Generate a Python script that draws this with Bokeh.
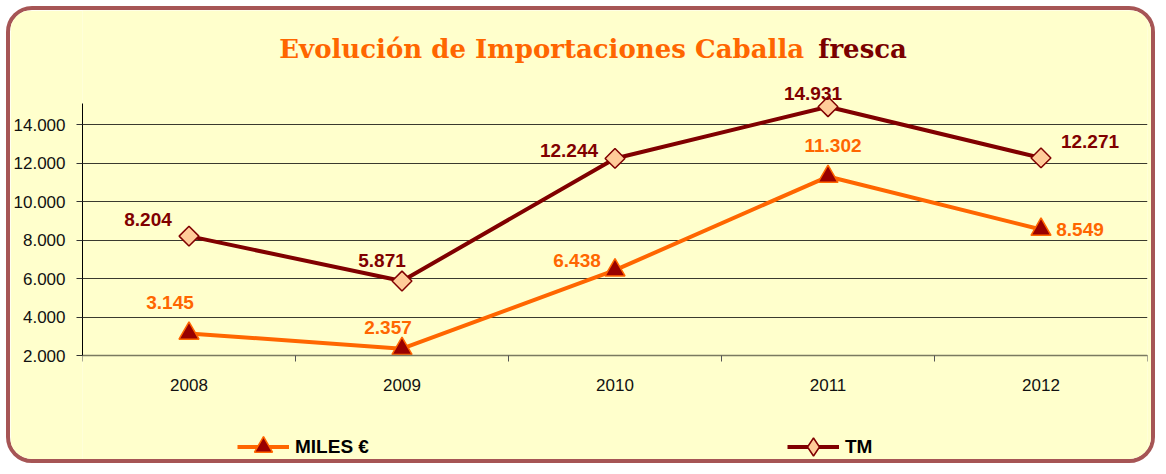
import math
from bokeh.plotting import figure
from bokeh.models import (ColumnDataSource, FixedTicker, Label, Legend, LegendItem, Range1d)
from bokeh.core.properties import value
from bokeh.embed import file_html
from bokeh.resources import INLINE

# ---- data ----
years = ["2008", "2009", "2010", "2011", "2012"]
miles_eur = [3145, 2357, 6438, 11302, 8549]
tm = [8204, 5871, 12244, 14931, 12271]
y_ticks = [2000, 4000, 6000, 8000, 10000, 12000, 14000]

# ---- style (label offsets in screen px) ----
tm_dx = [-41, -20, -46, -15, 49]
tm_dy = [-17, -21, -8, -13, -16]
mi_dx = [-19, -14, -38, 5, 39]
mi_dy = [-31, -21, -10, -31, 0]

ORANGE = "#FF6600"
DARKRED = "#800000"
BG = "#FFFFCC"
# value axis drawn from 2000 to 15100; the frame extends beyond it to hold title and legend
AX_LO, AX_HI = 2000, 15100
Y_START, Y_END = -3822, 19934

def fmt(v):
    return f"{v:,}".replace(",", ".")

xs = [i + 0.5 for i in range(len(years))]

p = figure(width=1149, height=457, output_backend="svg", toolbar_location=None,
           x_range=Range1d(0, len(years)), y_range=Range1d(Y_START, Y_END),
           min_border_left=70, min_border_right=12, min_border_top=0, min_border_bottom=0)
p.background_fill_color = BG
p.border_fill_color = BG
p.outline_line_color = None
p.styles = {"border": "4px solid #A65555", "border-radius": "26px", "overflow": "hidden",
            "margin": "6px 0 0 6px"}

# axes
xa = p.xaxis[0]
xa.fixed_location = AX_LO
xa.ticker = FixedTicker(ticks=xs, minor_ticks=list(range(len(years) + 1)))
xa.major_label_overrides = {x: y for x, y in zip(xs, years)}
xa.major_tick_line_color = None
xa.minor_tick_out = 6
xa.minor_tick_in = 0
xa.minor_tick_line_color = "#555555"
xa.axis_line_color = "#7A7A60"
xa.axis_line_width = 1.5
xa.major_label_text_font = "Liberation Sans"
xa.major_label_text_font_size = "17px"
xa.major_label_text_color = "#111111"
xa.major_label_standoff = 17

ya = p.yaxis[0]
ya.bounds = (AX_LO, AX_HI)
ya.ticker = FixedTicker(ticks=y_ticks)
ya.major_label_overrides = {t: fmt(t) for t in y_ticks}
ya.minor_tick_line_color = None
ya.major_tick_out = 6
ya.major_tick_in = 0
ya.major_tick_line_color = "#333333"
ya.axis_line_color = "#000000"
ya.major_label_text_font = "Liberation Sans"
ya.major_label_text_font_size = "17px"
ya.major_label_text_color = "#111111"
ya.major_label_standoff = 11

p.xgrid.grid_line_color = None
p.ygrid.grid_line_color = "#3A3A2E"
p.ygrid.grid_line_width = 1

src = ColumnDataSource(dict(
    x=xs, miles=miles_eur, tm=tm,
    miles_txt=[fmt(v) for v in miles_eur], tm_txt=[fmt(v) for v in tm],
    tm_dx=tm_dx, tm_dy=tm_dy, mi_dx=mi_dx, mi_dy=mi_dy))

l1 = p.line("x", "miles", source=src, line_color=ORANGE, line_width=4)
m1 = p.scatter("x", "miles", source=src, marker="triangle", size=20,
               fill_color="#990000", line_color=ORANGE, line_width=1.5)
l2 = p.line("x", "tm", source=src, line_color=DARKRED, line_width=4)
m2 = p.scatter("x", "tm", source=src, marker="square", angle=math.pi / 4, size=14,
               fill_color="#FFCC99", line_color=DARKRED, line_width=1.5)
# legend key symbol for TM (hidden in the plot, shown only in the legend)
m2_key = p.scatter("x", "tm", source=src, marker="diamond", size=18,
                   fill_color="#FFCC99", line_color=DARKRED, line_width=1.5, visible=False)

p.text("x", "miles", text="miles_txt", source=src, x_offset="mi_dx", y_offset="mi_dy",
       text_align="center", text_baseline="middle", text_color=ORANGE,
       text_font=value("Liberation Sans"), text_font_style="bold", text_font_size="19px")
p.text("x", "tm", text="tm_txt", source=src, x_offset="tm_dx", y_offset="tm_dy",
       text_align="center", text_baseline="middle", text_color=DARKRED,
       text_font=value("Liberation Sans"), text_font_style="bold", text_font_size="19px")

# title in two colours
t1 = Label(x=3.388, y=17907, text="Evolución de Importaciones Caballa", text_align="right",
           text_baseline="middle", text_color=ORANGE, text_font="DejaVu Serif",
           text_font_style="bold", text_font_size="26px")
t2 = Label(x=3.454, y=17907, text="fresca", text_align="left",
           text_baseline="middle", text_color="#7A0000", text_font="DejaVu Serif",
           text_font_style="bold", text_font_size="26px")
p.add_layout(t1)
p.add_layout(t2)

legend = Legend(items=[LegendItem(label="MILES €", renderers=[l1, m1]),
                       LegendItem(label="TM", renderers=[l2, m2_key])],
                orientation="horizontal", location=(155, -2), spacing=418,
                glyph_width=52, glyph_height=45, label_standoff=6, padding=0, margin=0,
                border_line_color=None, background_fill_alpha=0,
                inactive_fill_alpha=0, click_policy="none",
                label_text_font="Liberation Sans", label_text_font_style="bold",
                label_text_font_size="19px", label_text_color="#000000")
p.add_layout(legend, "center")

open("out.html", "w").write(file_html(p, INLINE))
